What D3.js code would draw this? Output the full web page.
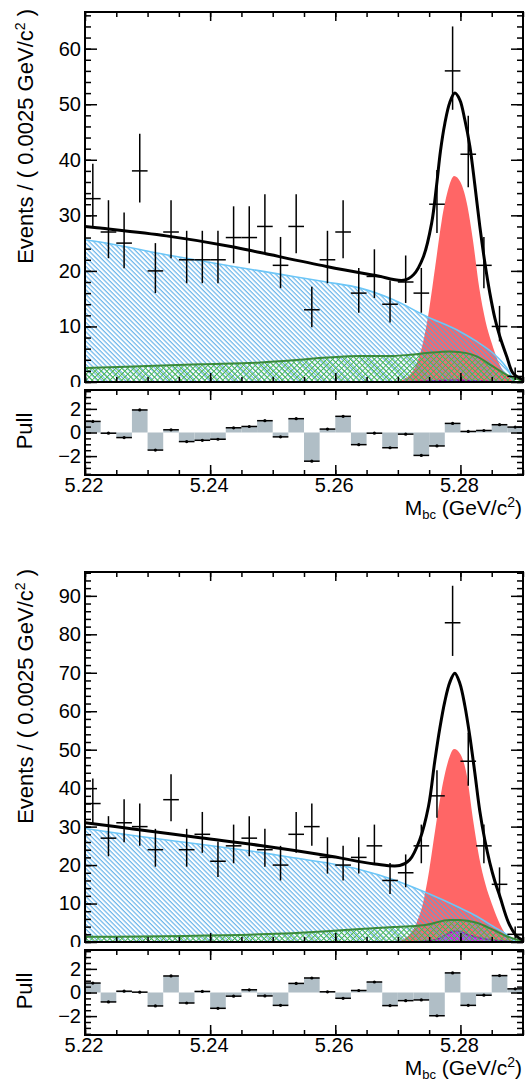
<!DOCTYPE html>
<html>
<head>
<meta charset="utf-8">
<title>Mbc fit</title>
<script src="https://cdn.jsdelivr.net/npm/d3@7"></script>
<style>
  body { margin: 0; background: #fff; }
  svg { display: block; font-family: "Liberation Sans", Arial, Helvetica, sans-serif; }
</style>
</head>
<body>
<div id="chart"></div>
<script>
// values
const massRange = [5.22, 5.29];
const binWidth = 0.0025;
const xTickLabels = [5.22, 5.24, 5.26, 5.28];
const yTicks1 = [0, 10, 20, 30, 40, 50, 60];
const yTicks2 = [0, 10, 20, 30, 40, 50, 60, 70, 80, 90];
const pullTicks = [-2, 0, 2];
const yMax1 = 66.6;
const yMax2 = 96.2;

// top plot
const events1 = [33, 27, 25, 38, 20, 27, 22, 22, 22, 26, 26, 28, 21, 28, 13, 22, 27, 16, 19, 14, 18, 16, 32, 56, 41, 21, 10, 1];
const pulls1 = [0.94, -0.06, -0.43, 1.91, -1.49, 0.23, -0.77, -0.66, -0.57, 0.40, 0.51, 1.00, -0.37, 1.17, -2.43, 0.29, 1.37, -1.03, -0.06, -1.29, -0.14, -1.94, -1.14, 0.77, 0.09, 0.17, 0.66, 0.46];
const total1 = [[5.2200, 28.0], [5.2224, 27.7], [5.2330, 26.3], [5.2433, 24.4], [5.2480, 23.3], [5.2586, 20.8], [5.2663, 19.2], [5.2709, 18.3], [5.2725, 19.3], [5.2741, 22.6], [5.2754, 28.6], [5.2762, 35.5], [5.2768, 41.5], [5.2775, 46.5], [5.2783, 50.3], [5.2791, 52.0], [5.2799, 50.8], [5.2807, 47.2], [5.2815, 42.5], [5.2823, 35.5], [5.2831, 28.0], [5.2839, 21.5], [5.2847, 16.0], [5.2855, 11.5], [5.2863, 8.2], [5.2874, 4.6], [5.2884, 1.6], [5.2900, 0.4]];
const cont1 = [[5.2200, 25.6], [5.2224, 25.2], [5.2330, 22.9], [5.2437, 20.8], [5.2480, 20.0], [5.2533, 19.0], [5.2586, 18.0], [5.2640, 16.9], [5.2693, 14.8], [5.2746, 11.8], [5.2799, 9.1], [5.2826, 7.3], [5.2852, 5.2], [5.2868, 3.4], [5.2879, 1.6], [5.2884, 0.4], [5.2890, 0.0]];
const bbar1 = [[5.2200, 2.5], [5.2277, 2.8], [5.2384, 3.2], [5.2480, 3.5], [5.2533, 3.9], [5.2586, 4.4], [5.2640, 4.7], [5.2693, 4.7], [5.2719, 4.9], [5.2746, 5.2], [5.2783, 5.5], [5.2810, 5.2], [5.2826, 4.6], [5.2852, 2.8], [5.2874, 1.3], [5.2895, 0.4], [5.2900, 0.3]];
const sig1 = [[5.270, 0.1], [5.271, 0.5], [5.272, 1.4], [5.273, 3.3], [5.274, 7.0], [5.275, 13.0], [5.276, 21.0], [5.277, 29.0], [5.278, 34.5], [5.279, 37.1], [5.280, 36.0], [5.281, 32.3], [5.282, 25.5], [5.283, 17.0], [5.284, 11.0], [5.285, 7.0], [5.286, 3.8], [5.287, 1.7], [5.288, 0.6], [5.289, 0.1]];
const peak1 = [[5.2700, 0.0], [5.2740, 0.15], [5.2790, 0.35], [5.2840, 0.15], [5.2880, 0.0]];

// bottom plot
const events2 = [36, 27, 31, 30, 24, 37, 24, 28, 21, 25, 27, 24, 20, 28, 30, 22, 20, 22, 25, 16, 18, 25, 38, 83, 47, 25, 15, 2];
const pulls2 = [0.80, -0.80, 0.11, 0.03, -1.14, 1.40, -0.89, 0.09, -1.34, -0.31, 0.23, -0.29, -1.09, 0.77, 1.23, 0.06, -0.49, 0.17, 0.89, -1.11, -0.69, -0.63, -1.97, 1.66, -1.09, -0.23, 1.43, 0.31];
const total2 = [[5.2200, 31.0], [5.2277, 29.4], [5.2384, 27.1], [5.2480, 25.1], [5.2586, 22.5], [5.2663, 20.3], [5.2703, 19.9], [5.2719, 21.4], [5.2735, 26.6], [5.2749, 35.3], [5.2759, 47.0], [5.2767, 55.5], [5.2775, 62.5], [5.2783, 67.5], [5.2791, 69.9], [5.2799, 67.3], [5.2807, 61.5], [5.2815, 53.5], [5.2823, 44.0], [5.2831, 34.0], [5.2839, 26.5], [5.2847, 20.6], [5.2855, 15.8], [5.2863, 11.9], [5.2877, 5.0], [5.2890, 1.5], [5.2900, 0.5]];
const cont2 = [[5.2200, 29.5], [5.2277, 27.7], [5.2384, 25.4], [5.2480, 23.3], [5.2533, 21.9], [5.2586, 20.6], [5.2640, 18.8], [5.2693, 16.2], [5.2746, 12.8], [5.2799, 8.9], [5.2826, 6.7], [5.2852, 4.1], [5.2874, 1.9], [5.2884, 0.6], [5.2890, 0.0]];
const bbar2 = [[5.2200, 1.35], [5.2480, 2.0], [5.2586, 2.8], [5.2640, 3.4], [5.2693, 3.9], [5.2719, 4.1], [5.2746, 4.5], [5.2783, 5.7], [5.2799, 5.7], [5.2826, 5.0], [5.2852, 3.2], [5.2874, 1.5], [5.2895, 0.5], [5.2900, 0.4]];
const sig2 = [[5.270, 0.2], [5.271, 0.8], [5.272, 2.2], [5.273, 5.0], [5.274, 10.0], [5.275, 18.5], [5.276, 29.5], [5.277, 39.5], [5.278, 46.8], [5.279, 50.2], [5.280, 48.8], [5.281, 43.5], [5.282, 32.0], [5.283, 22.0], [5.284, 15.0], [5.285, 10.0], [5.286, 5.8], [5.287, 2.6], [5.288, 0.8], [5.289, 0.1]];
const peak2 = [[5.2720, 0.0], [5.2740, 0.2], [5.2760, 0.6], [5.2770, 1.2], [5.2780, 2.2], [5.2790, 2.8], [5.2800, 2.7], [5.2810, 2.0], [5.2820, 1.5], [5.2830, 1.1], [5.2840, 0.8], [5.2860, 0.4], [5.2880, 0.15], [5.2890, 0.0]];

const panels = [
  {top: 12, yMax: yMax1, yTicks: yTicks1, events: events1, pulls: pulls1, total: total1, cont: cont1, bbar: bbar1, sig: sig1, peak: peak1},
  {top: 572, yMax: yMax2, yTicks: yTicks2, events: events2, pulls: pulls2, total: total2, cont: cont2, bbar: bbar2, sig: sig2, peak: peak2}
];

const width = 527, height = 1082;
const frameL = 85, frameR = 523;
const mainH = 370, pullTop = 378, pullH = 85;

const svg = d3.select("#chart").append("svg")
    .attr("width", width)
    .attr("height", height);

svg.append("rect").attr("width", width).attr("height", height).attr("fill", "#fff");

const defs = svg.append("defs");
defs.append("pattern")
    .attr("id", "hatchBlue")
    .attr("patternUnits", "userSpaceOnUse")
    .attr("width", 3.3).attr("height", 10)
    .attr("patternTransform", "rotate(-45)")
    .append("line")
    .attr("x1", 1).attr("x2", 1).attr("y1", 0).attr("y2", 10)
    .attr("stroke", "#4aa6e6").attr("stroke-width", 1);
defs.append("pattern")
    .attr("id", "crossGreen")
    .attr("patternUnits", "userSpaceOnUse")
    .attr("width", 4.2).attr("height", 4.2)
    .attr("patternTransform", "rotate(45)")
    .append("path")
    .attr("d", "M2.1,0V4.2M0,2.1H4.2")
    .attr("stroke", "#4cb84c").attr("stroke-width", 0.85);

const x = d3.scaleLinear().domain(massRange).range([frameL, frameR]);
const xMinor = d3.range(0, 15).map(i => massRange[0] + i * 0.005);

function styleAxis(a) {
    a.select(".domain").remove();
    a.selectAll("line").attr("stroke", "#000").attr("stroke-width", 1.5);
    a.selectAll("text").attr("font-size", 20).attr("fill", "#000")
        .attr("font-family", "Liberation Sans, Arial, sans-serif");
    return a;
}

function addTicks(g, gen, values, size, pos, fmt, pad) {
    const ax = gen.tickValues(values).tickSizeInner(-size).tickSizeOuter(0)
        .tickPadding(pad || 4).tickFormat(fmt || "");
    return styleAxis(g.append("g").attr("transform", pos).call(ax));
}

panels.forEach((p, k) => {
    const top = p.top;
    const g = svg.append("g");
    const y = d3.scaleLinear().domain([0, p.yMax]).range([top + mainH, top]);
    const yp = d3.scaleLinear().domain([-3.6, 3.6]).range([top + pullTop + pullH, top + pullTop]);

    defs.append("clipPath").attr("id", "clipMain" + k)
        .append("rect").attr("x", frameL).attr("y", top).attr("width", frameR - frameL).attr("height", mainH);
    defs.append("clipPath").attr("id", "clipPull" + k)
        .append("rect").attr("x", frameL).attr("y", top + pullTop).attr("width", frameR - frameL).attr("height", pullH);

    const area = d3.area().x(d => x(d[0])).y0(y(0)).y1(d => y(d[1])).curve(d3.curveMonotoneX);
    const line = d3.line().x(d => x(d[0])).y(d => y(d[1])).curve(d3.curveMonotoneX);
    const smooth = d3.line().x(d => x(d[0])).y(d => y(d[1])).curve(d3.curveCatmullRom.alpha(0.5));

    const plot = g.append("g").attr("clip-path", `url(#clipMain${k})`);

    plot.append("path").attr("d", area(p.sig)).attr("fill", "#ff6666");
    plot.append("path").attr("d", area(p.peak)).attr("fill", "#e21ee2");
    plot.append("path").attr("d", line(p.peak)).attr("fill", "none").attr("stroke", "#a000a0").attr("stroke-width", 1.5);
    plot.append("path").attr("d", area(p.cont)).attr("fill", "url(#hatchBlue)");
    plot.append("path").attr("d", line(p.cont)).attr("fill", "none").attr("stroke", "#6cc6f7").attr("stroke-width", 1.6);
    plot.append("path").attr("d", area(p.bbar)).attr("fill", "url(#crossGreen)");
    plot.append("path").attr("d", line(p.bbar)).attr("fill", "none").attr("stroke", "#3a8a3a").attr("stroke-width", 2);
    plot.append("path").attr("d", smooth(p.total)).attr("fill", "none").attr("stroke", "#000").attr("stroke-width", 3);

    // data points with poisson-like errors
    const pts = plot.selectAll(".pt").data(p.events).join("g").attr("class", "pt");
    pts.append("line")
        .attr("x1", (d, i) => x(massRange[0] + (i + 0.5) * binWidth))
        .attr("x2", (d, i) => x(massRange[0] + (i + 0.5) * binWidth))
        .attr("y1", d => y(d + 0.5 + Math.sqrt(d + 0.25)))
        .attr("y2", d => y(d + 0.5 - Math.sqrt(d + 0.25)))
        .attr("stroke", "#000").attr("stroke-width", 1.5);
    pts.append("line")
        .attr("x1", (d, i) => x(massRange[0] + i * binWidth))
        .attr("x2", (d, i) => x(massRange[0] + (i + 1) * binWidth))
        .attr("y1", d => y(d)).attr("y2", d => y(d))
        .attr("stroke", "#000").attr("stroke-width", 1.5);

    g.append("rect").attr("x", frameL).attr("y", top).attr("width", frameR - frameL).attr("height", mainH)
        .attr("fill", "none").attr("stroke", "#000").attr("stroke-width", 2);

    const yMinor = d3.range(0, p.yMax, 2);
    addTicks(g, d3.axisLeft(y), yMinor, 6, `translate(${frameL},0)`);
    addTicks(g, d3.axisLeft(y), p.yTicks, 12, `translate(${frameL},0)`, d3.format("d"), 4);
    addTicks(g, d3.axisRight(y), yMinor, 6, `translate(${frameR},0)`);
    addTicks(g, d3.axisRight(y), p.yTicks, 12, `translate(${frameR},0)`);
    addTicks(g, d3.axisBottom(x), xMinor, 5, `translate(0,${top + mainH})`);
    addTicks(g, d3.axisBottom(x), xTickLabels, 9, `translate(0,${top + mainH})`);
    addTicks(g, d3.axisTop(x), xMinor, 5, `translate(0,${top})`);
    addTicks(g, d3.axisTop(x), xTickLabels, 9, `translate(0,${top})`);

    const yt = g.append("text")
        .attr("transform", `translate(33,${top - 3}) rotate(-90)`)
        .attr("text-anchor", "end").attr("font-size", 22);
    yt.append("tspan").text("Events / ( 0.0025 GeV/c");
    yt.append("tspan").attr("dy", -8).attr("font-size", 14).text("2");
    yt.append("tspan").attr("dy", 8).text(" )");

    // pull pad
    const pg = svg.append("g");
    pg.append("rect").attr("x", 0).attr("y", top + pullTop - 3).attr("width", width).attr("height", 150).attr("fill", "#fff");
    const pplot = pg.append("g").attr("clip-path", `url(#clipPull${k})`);
    pplot.selectAll(".bar").data(p.pulls).join("rect")
        .attr("x", (d, i) => x(massRange[0] + i * binWidth))
        .attr("width", x(massRange[0] + binWidth) - x(massRange[0]))
        .attr("y", d => Math.min(yp(d), yp(0)))
        .attr("height", d => Math.abs(yp(d) - yp(0)))
        .attr("fill", "#b0bec6");
    pplot.selectAll(".pl").data(p.pulls).join("line")
        .attr("x1", (d, i) => x(massRange[0] + i * binWidth))
        .attr("x2", (d, i) => x(massRange[0] + (i + 1) * binWidth))
        .attr("y1", d => yp(d)).attr("y2", d => yp(d))
        .attr("stroke", "#000").attr("stroke-width", 1.5);
    pplot.selectAll(".pd").data(p.pulls).join("circle")
        .attr("cx", (d, i) => x(massRange[0] + (i + 0.5) * binWidth))
        .attr("cy", d => yp(d)).attr("r", 1.6).attr("fill", "#000");

    pg.append("rect").attr("x", frameL).attr("y", top + pullTop).attr("width", frameR - frameL).attr("height", pullH)
        .attr("fill", "none").attr("stroke", "#000").attr("stroke-width", 2);

    const pMinor = d3.range(-3.5, 3.6, 0.5);
    addTicks(pg, d3.axisLeft(yp), pMinor, 6, `translate(${frameL},0)`);
    addTicks(pg, d3.axisLeft(yp), pullTicks, 12, `translate(${frameL},0)`, d => d < 0 ? "\u2212" + Math.abs(d) : d, 4);
    addTicks(pg, d3.axisRight(yp), pMinor, 6, `translate(${frameR},0)`);
    addTicks(pg, d3.axisRight(yp), pullTicks, 12, `translate(${frameR},0)`);
    addTicks(pg, d3.axisTop(x), xMinor, 5, `translate(0,${top + pullTop})`);
    addTicks(pg, d3.axisTop(x), xTickLabels, 10, `translate(0,${top + pullTop})`);
    addTicks(pg, d3.axisBottom(x), xMinor, 5, `translate(0,${top + pullTop + pullH})`);
    const xa = addTicks(pg, d3.axisBottom(x), xTickLabels, 10, `translate(0,${top + pullTop + pullH})`, d3.format(".2f"), 2.5);
    xa.selectAll("text").attr("x", -1.5);

    pg.append("text")
        .attr("transform", `translate(32,${top + 419}) rotate(-90)`)
        .attr("text-anchor", "middle").attr("font-size", 22).text("Pull");

    const xt = pg.append("text")
        .attr("x", frameR - 1).attr("y", top + 503)
        .attr("text-anchor", "end").attr("font-size", 21);
    xt.append("tspan").text("M");
    xt.append("tspan").attr("dy", 3.5).attr("font-size", 13).text("bc");
    xt.append("tspan").attr("dy", -3.5).text(" (GeV/c");
    xt.append("tspan").attr("dy", -8).attr("font-size", 14).text("2");
    xt.append("tspan").attr("dy", 8).text(")");
});
</script>
</body>
</html>
